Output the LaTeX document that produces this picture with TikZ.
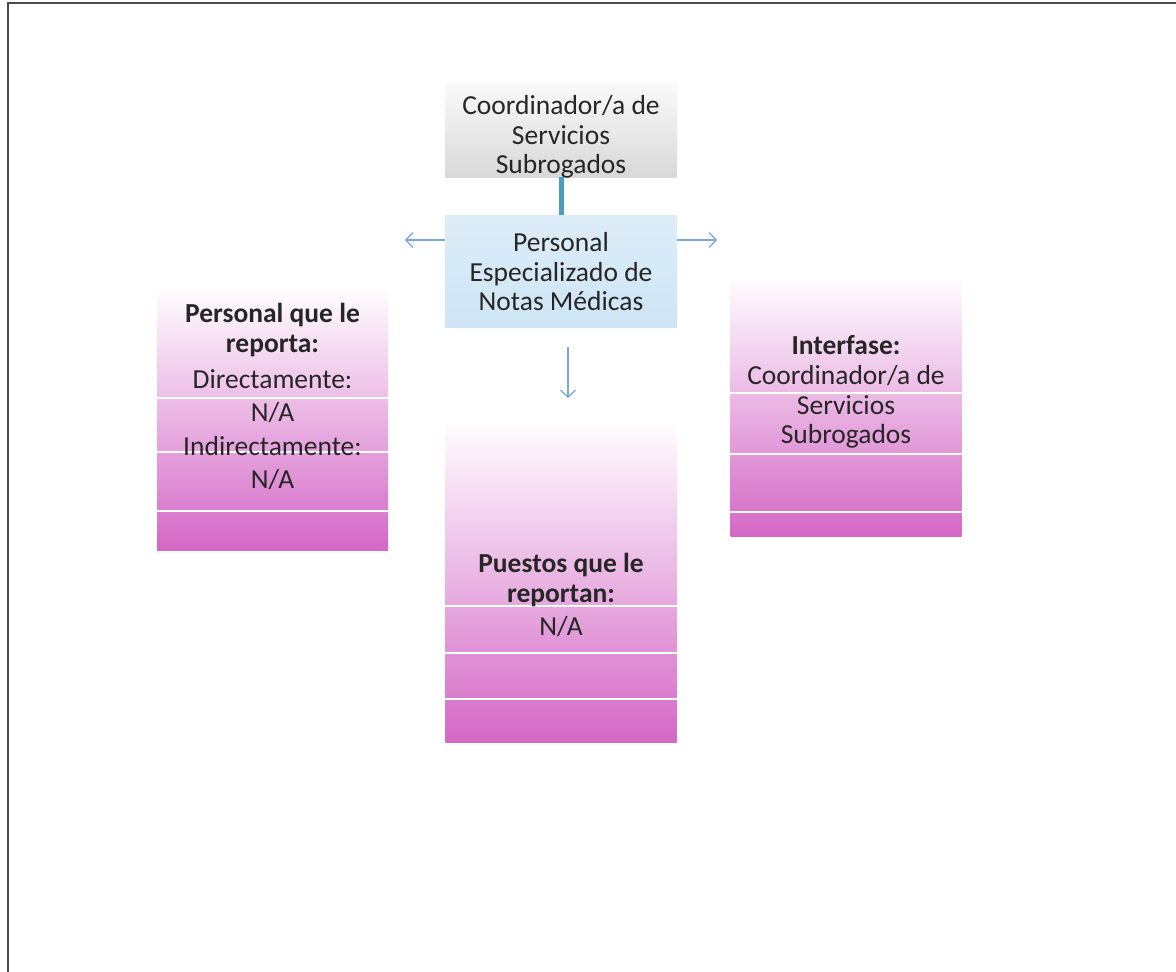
\documentclass[tikz,border=0pt]{standalone}
\usepackage{fontspec}
\setmainfont{Carlito}
\usepackage{xcolor}
\usetikzlibrary{arrows.meta,positioning,calc}
\definecolor{orgtext}{RGB}{38,38,38}
\definecolor{pinkdeep}{RGB}{212,104,198}
\definecolor{arrowblue}{RGB}{118,170,222}
\definecolor{linkteal}{RGB}{72,158,190}
\definecolor{boxblue}{RGB}{206,229,245}

\begin{document}
\begin{tikzpicture}[x=1pt,y=-1pt,
  txt/.style={font=\fontsize{27.5}{29.5}\selectfont, text=orgtext, align=center, inner sep=0pt},
  hdr/.style={font=\fontsize{27.5}{29.5}\selectfont\bfseries, text=orgtext, align=center, inner sep=0pt},
  pinkbox/.style={inner sep=0pt, top color=white, bottom color=pinkdeep, minimum width=231pt},
  sepline/.style={white, line width=1.3pt},
  thinarrow/.style={-{Straight Barb[length=7pt,width=15pt]}, draw=arrowblue, line width=1.3pt}]

  \useasboundingbox (0,0) rectangle (1176,972);

  % === Page frame (only top and left edges show) ===
  \draw[line width=2.6pt, black!70] (8,972) -- (8,3) -- (1176,3);

  % === Top: Coordinador/a ===
  \node[inner sep=0pt, minimum width=232pt, minimum height=95pt,
        top color=gray!4, bottom color=gray!30] (coord) at (561,129.5) {};
  \node[txt] (coordtxt) at (561,137) {Coordinador/a de\\Servicios\\Subrogados};

  % === Middle: the post ===
  \node[inner sep=0pt, minimum width=232pt, minimum height=112pt,
        top color=boxblue!70, bottom color=boxblue] (esp) at (561,271) {};
  \node[txt] (esptxt) at (561,272) {Personal\\Especializado de\\Notas Médicas};

  \draw[linkteal, line width=5pt] (coord.south) -- (esp.north);

  % Arrows
  \coordinate (larr) at (405,240);
  \coordinate (rarr) at (717,240);
  \coordinate (dtop) at (568,347);
  \coordinate (dbot) at (568,398);
  \draw[thinarrow] (esp.west |- larr) -- (larr);
  \draw[thinarrow] (esp.east |- rarr) -- (rarr);
  \draw[thinarrow] (dtop) -- (dbot);

  % === Left: Personal que le reporta ===
  \node[pinkbox, minimum height=265pt] (lbox) at (272.5,417.5) {};
  \draw[sepline] (157,398) -- (388,398);
  \draw[sepline] (157,452) -- (388,452);
  \draw[sepline] (157,511) -- (388,511);
  \node[hdr] (lhead) at (272.5,330) {Personal que le\\reporta:};
  \node[txt] (ldir) at (272.5,379) {Directamente:};
  \node[txt] (ldirna) at (272.5,413) {N/A};
  \node[txt] (lind) at (272.5,446) {Indirectamente:};
  \node[txt] (lindna) at (272.5,480) {N/A};

  % === Right: Interfase ===
  \node[pinkbox, minimum height=261pt] (rbox) at (846,405.5) {};
  \draw[sepline] (730,393) -- (962,393);
  \draw[sepline] (730,454) -- (962,454);
  \draw[sepline] (730,512) -- (962,512);
  \node[hdr] (rhead) at (846,345) {Interfase:};
  \node[txt] (rcoord) at (846,407) {Coordinador/a de\\Servicios\\Subrogados};

  % === Bottom: Puestos que le reportan ===
  \node[pinkbox, minimum height=322pt] (bbox) at (561,581) {};
  \draw[sepline] (445,606) -- (677,606);
  \draw[sepline] (445,653) -- (677,653);
  \draw[sepline] (445,699) -- (677,699);
  \node[hdr] (bhead) at (561,580) {Puestos que le\\reportan:};
  \node[txt] (bna) at (561,627) {N/A};
\end{tikzpicture}
\end{document}
